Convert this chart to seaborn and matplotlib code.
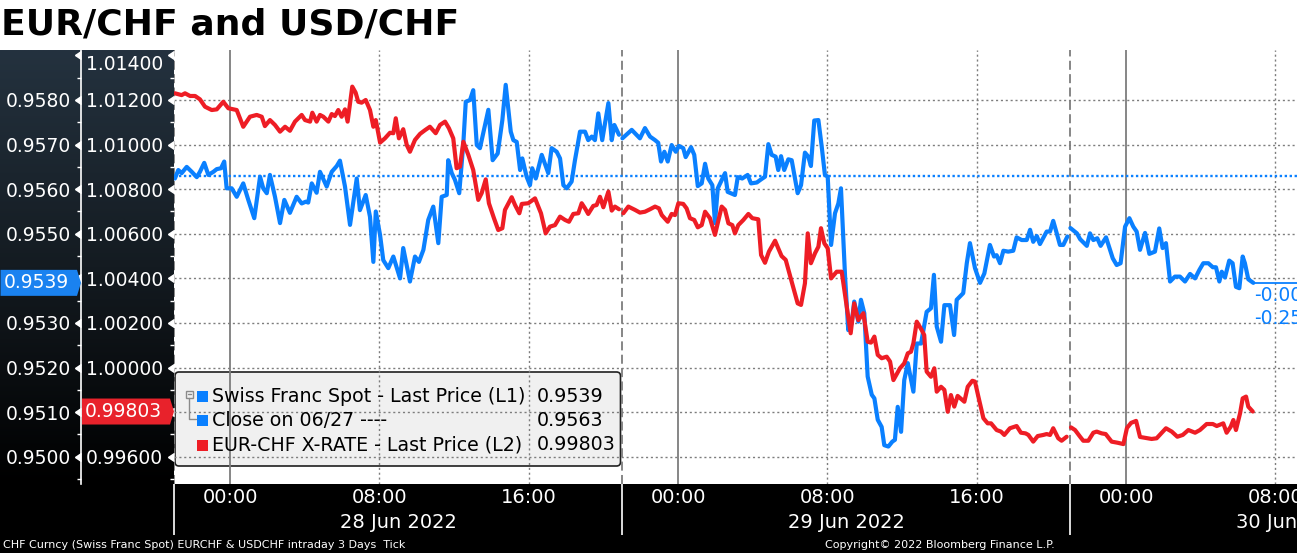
import numpy as np
import pandas as pd
import matplotlib
matplotlib.use("Agg")
import matplotlib.pyplot as plt
from matplotlib.colors import LinearSegmentedColormap
from matplotlib.patches import Polygon, Rectangle, FancyBboxPatch
from matplotlib.transforms import IdentityTransform, blended_transform_factory
from matplotlib.lines import Line2D
import seaborn as sns

# ---------------- data ----------------
# time = hours after 21:00 on 27 Jun 2022 (start of the Bloomberg trading session)
usd_session1 = [(0.05,0.95624),(0.23,0.95643),(0.41,0.95636),(0.68,0.95650),(0.95,0.95639),(1.22,0.95627),(1.39,0.95639),(1.62,0.95659),(1.84,0.95632),(2.11,0.95639),(2.29,0.95645),(2.52,0.95647),(2.69,0.95662),(2.82,0.95602),(3.09,0.95602),(3.36,0.95583),(3.71,0.95613),(3.98,0.95576),(4.30,0.95535),(4.61,0.95628),(4.78,0.95602),(4.97,0.95591),(5.14,0.95632),(5.41,0.95583),(5.68,0.95524),(5.91,0.95576),(6.21,0.95547),(6.57,0.95583),(6.84,0.95568),(7.06,0.95572),(7.19,0.95570),(7.38,0.95613),(7.64,0.95592),(7.82,0.95639),(8.18,0.95606),(8.45,0.95639),(8.72,0.95652),(8.89,0.95664),(9.16,0.95606),(9.43,0.95520),(9.79,0.95624),(9.96,0.95553),(10.27,0.95587),(10.50,0.95538),(10.68,0.95437),(10.81,0.95550),(11.04,0.95497),(11.21,0.95441),(11.48,0.95423),(11.75,0.95449),(12.11,0.95400),(12.28,0.95468),(12.64,0.95393),(12.91,0.95449),(13.12,0.95437),(13.36,0.95464),(13.62,0.95531),(13.89,0.95561),(14.16,0.95479),(14.34,0.95583),(14.61,0.95587),(14.69,0.95665),(14.88,0.95636),(15.05,0.95621),(15.28,0.95591),(15.50,0.95703),(15.63,0.95796),(15.86,0.95800),(16.03,0.95822),(16.22,0.95699),(16.39,0.95692),(16.84,0.95778),(17.07,0.95665),(17.34,0.95680),(17.59,0.95755),(17.77,0.95834),(18.04,0.95729),(18.18,0.95710),(18.36,0.95706),(18.54,0.95643),(18.66,0.95669),(18.89,0.95628),(19.07,0.95609),(19.19,0.95647),(19.38,0.95624),(19.70,0.95677),(20.05,0.95636),(20.23,0.95692),(20.50,0.95684),(20.68,0.95669),(20.86,0.95609),(21.04,0.95602),(21.30,0.95617),(21.48,0.95665),(21.75,0.95729),(22.02,0.95729),(22.19,0.95710),(22.38,0.95718),(22.55,0.95710),(22.73,0.95770),(22.94,0.95710),(23.27,0.95793),(23.45,0.95710),(23.59,0.95744),(23.84,0.95722)]
usd_session2 = [(24.02,0.95714),(24.52,0.95733),(24.96,0.95714),(25.23,0.95737),(25.50,0.95718),(25.77,0.95710),(25.94,0.95704),(26.09,0.95662),(26.27,0.95684),(26.45,0.95662),(26.66,0.95699),(26.88,0.95684),(27.05,0.95697),(27.28,0.95692),(27.41,0.95672),(27.70,0.95694),(27.87,0.95677),(28.06,0.95607),(28.27,0.95613),(28.45,0.95657),(28.62,0.95624),(28.84,0.95609),(28.98,0.95524),(29.13,0.95602),(29.52,0.95636),(29.66,0.95594),(30.05,0.95587),(30.20,0.95627),(30.44,0.95624),(30.73,0.95632),(30.91,0.95613),(31.22,0.95615),(31.45,0.95622),(31.66,0.95628),(31.84,0.95701),(32.02,0.95677),(32.23,0.95673),(32.37,0.95643),(32.52,0.95674),(32.69,0.95643),(32.91,0.95667),(33.09,0.95665),(33.41,0.95591),(33.59,0.95609),(33.80,0.95682),(33.98,0.95673),(34.12,0.95652),(34.30,0.95754),(34.52,0.95755),(34.70,0.95695),(34.87,0.95632),(35.02,0.95628),(35.20,0.95475),(35.41,0.95546),(35.59,0.95568),(35.73,0.95602),(35.95,0.95404),(36.12,0.95284),(36.30,0.95299),(36.44,0.95348),(36.66,0.95303),(36.80,0.95352),(36.98,0.95322),(37.16,0.95180),(37.38,0.95139),(37.52,0.95131),(37.70,0.95083),(37.91,0.95067),(38.05,0.95026),(38.27,0.95023),(38.48,0.95034),(38.62,0.95038),(38.77,0.95112),(38.95,0.95056),(39.12,0.95172),(39.31,0.95210),(39.61,0.95146),(39.79,0.95254),(40.02,0.95254),(40.32,0.95325),(40.55,0.95333),(40.71,0.95408),(40.86,0.95292),(41.09,0.95258),(41.27,0.95340),(41.57,0.95340),(41.79,0.95273),(41.93,0.95352),(42.28,0.95367),(42.47,0.95434),(42.64,0.95479),(42.91,0.95423),(43.18,0.95390),(43.41,0.95411),(43.71,0.95475),(43.93,0.95449),(44.07,0.95452),(44.25,0.95434),(44.43,0.95462),(44.69,0.95460),(44.96,0.95462),(45.14,0.95492),(45.41,0.95486),(45.68,0.95486),(45.86,0.95509),(46.03,0.95482),(46.22,0.95495),(46.39,0.95477),(46.75,0.95505),(46.93,0.95505),(47.10,0.95529),(47.29,0.95501),(47.46,0.95475),(47.64,0.95475),(47.86,0.95494)]
usd_session3 = [(48.02,0.95513),(48.37,0.95501),(48.54,0.95488),(48.90,0.95473),(49.07,0.95501),(49.25,0.95486),(49.46,0.95490),(49.64,0.95473),(49.93,0.95492),(50.29,0.95445),(50.50,0.95430),(50.71,0.95434),(50.95,0.95516),(51.18,0.95535),(51.39,0.95516),(51.57,0.95505),(51.75,0.95464),(52.02,0.95502),(52.25,0.95455),(52.55,0.95460),(52.78,0.95512),(52.96,0.95468),(53.14,0.95479),(53.36,0.95393),(53.62,0.95404),(53.89,0.95404),(54.16,0.95393),(54.43,0.95410),(54.70,0.95400),(54.93,0.95419),(55.14,0.95434),(55.41,0.95434),(55.65,0.95425),(55.82,0.95425),(56.00,0.95393),(56.13,0.95415),(56.30,0.95402),(56.53,0.95440),(56.71,0.95434),(56.89,0.95381),(57.07,0.95378),(57.25,0.95449),(57.37,0.95434),(57.55,0.95398),(57.82,0.95390)]

eur_session1 = [(0.05,1.01230),(0.41,1.01222),(0.59,1.01230),(0.86,1.01218),(1.13,1.01218),(1.39,1.01203),(1.66,1.01170),(2.02,1.01155),(2.29,1.01158),(2.64,1.01192),(2.91,1.01163),(3.36,1.01155),(3.71,1.01080),(4.07,1.01125),(4.43,1.01133),(4.70,1.01125),(4.87,1.01083),(5.14,1.01110),(5.41,1.01088),(5.68,1.01058),(5.95,1.01080),(6.21,1.01062),(6.48,1.01103),(6.84,1.01133),(7.02,1.01110),(7.29,1.01103),(7.41,1.01143),(7.64,1.01103),(7.82,1.01133),(8.00,1.01125),(8.27,1.01103),(8.45,1.01137),(8.62,1.01128),(8.80,1.01155),(8.98,1.01125),(9.16,1.01158),(9.30,1.01103),(9.55,1.01260),(9.73,1.01233),(9.87,1.01192),(10.05,1.01188),(10.27,1.01200),(10.50,1.01155),(10.68,1.01080),(10.81,1.01110),(11.04,1.01009),(11.30,1.01028),(11.57,1.01053),(11.75,1.01051),(11.88,1.01118),(12.05,1.01028),(12.28,1.01069),(12.47,1.00998),(12.64,1.00968),(12.91,1.01021),(13.18,1.01048),(13.45,1.01065),(13.71,1.01080),(14.02,1.01051),(14.25,1.01088),(14.52,1.01103),(14.73,1.01073),(14.96,1.01028),(15.14,1.00894),(15.32,1.00901),(15.50,1.01013),(15.77,1.00953),(16.03,1.00886),(16.30,1.00752),(16.48,1.00782),(16.70,1.00844),(16.87,1.00737),(17.14,1.00670),(17.37,1.00617),(17.59,1.00625),(17.73,1.00707),(18.09,1.00764),(18.27,1.00729),(18.50,1.00692),(18.63,1.00734),(18.98,1.00737),(19.34,1.00759),(19.66,1.00692),(19.91,1.00602),(20.14,1.00632),(20.41,1.00639),(20.68,1.00677),(20.95,1.00662),(21.16,1.00654),(21.39,1.00689),(21.66,1.00692),(21.84,1.00737),(22.02,1.00714),(22.19,1.00689),(22.46,1.00725),(22.64,1.00729),(22.82,1.00766),(23.00,1.00719),(23.27,1.00789),(23.45,1.00704),(23.62,1.00722),(23.84,1.00710)]
eur_session2 = [(24.07,1.00692),(24.34,1.00722),(24.70,1.00707),(24.96,1.00695),(25.23,1.00699),(25.50,1.00710),(25.77,1.00722),(25.98,1.00714),(26.13,1.00684),(26.45,1.00654),(26.66,1.00689),(26.84,1.00684),(27.02,1.00737),(27.28,1.00734),(27.46,1.00714),(27.64,1.00670),(27.87,1.00662),(28.06,1.00629),(28.27,1.00639),(28.45,1.00699),(28.71,1.00670),(28.98,1.00595),(29.34,1.00722),(29.52,1.00707),(29.70,1.00647),(29.91,1.00639),(30.05,1.00602),(30.23,1.00639),(30.50,1.00662),(30.77,1.00689),(30.98,1.00670),(31.30,1.00665),(31.45,1.00505),(31.66,1.00470),(31.87,1.00520),(32.20,1.00569),(32.37,1.00535),(32.55,1.00500),(32.77,1.00483),(33.09,1.00385),(33.41,1.00288),(33.59,1.00281),(33.80,1.00378),(33.95,1.00602),(34.12,1.00468),(34.34,1.00513),(34.52,1.00542),(34.66,1.00625),(34.84,1.00557),(35.02,1.00535),(35.20,1.00400),(35.50,1.00430),(35.77,1.00430),(36.04,1.00273),(36.25,1.00154),(36.44,1.00288),(36.66,1.00213),(36.93,1.00244),(37.16,1.00116),(37.34,1.00112),(37.52,1.00139),(37.70,1.00057),(37.91,1.00042),(38.18,1.00049),(38.36,1.00027),(38.54,0.99944),(38.89,0.99997),(39.12,1.00019),(39.31,1.00064),(39.48,1.00071),(39.61,1.00109),(39.79,1.00206),(40.05,1.00169),(40.19,1.00146),(40.32,0.99982),(40.55,0.99959),(40.73,0.99997),(40.86,0.99892),(41.09,0.99914),(41.27,0.99900),(41.45,0.99802),(41.62,0.99877),(41.80,0.99825),(41.98,0.99873),(42.34,0.99847),(42.52,0.99914),(42.77,0.99941),(42.91,0.99937),(43.09,0.99870),(43.36,0.99773),(43.59,0.99750),(43.77,0.99750),(44.07,0.99720),(44.30,0.99713),(44.48,0.99698),(44.78,0.99728),(45.14,0.99738),(45.37,0.99708),(45.62,0.99705),(45.77,0.99698),(46.03,0.99668),(46.27,0.99693),(46.57,0.99698),(46.75,0.99702),(46.93,0.99698),(47.10,0.99728),(47.37,0.99683),(47.55,0.99672),(47.82,0.99690)]
eur_session3 = [(48.05,0.99732),(48.27,0.99720),(48.54,0.99690),(48.71,0.99672),(48.98,0.99672),(49.25,0.99708),(49.43,0.99713),(49.70,0.99705),(49.91,0.99702),(50.23,0.99668),(50.55,0.99663),(50.86,0.99657),(51.05,0.99729),(51.27,0.99752),(51.54,0.99761),(51.75,0.99689),(52.37,0.99680),(52.64,0.99683),(53.14,0.99728),(53.45,0.99713),(53.75,0.99690),(54.04,0.99698),(54.34,0.99720),(54.70,0.99708),(54.96,0.99720),(55.32,0.99747),(55.65,0.99747),(55.86,0.99738),(56.21,0.99750),(56.39,0.99708),(56.61,0.99735),(56.75,0.99765),(56.89,0.99720),(57.11,0.99795),(57.25,0.99862),(57.43,0.99870),(57.55,0.99825),(57.79,0.99803)]

usd_close_0627 = 0.9563
usd_last = 0.9539
eur_last = 0.99803
usd_net_change = "-0.0024"
usd_pct_change = "-0.25%"

legend_names = ["Swiss Franc Spot - Last Price (L1)", "Close on 06/27 ----", "EUR-CHF X-RATE - Last Price (L2)"]
legend_values = ["0.9539", "0.9563", "0.99803"]

l1_ticks = [0.950, 0.951, 0.952, 0.953, 0.954, 0.955, 0.956, 0.957, 0.958, 0.959]
l1_labels = ["0.9500", "0.9510", "0.9520", "0.9530", "", "0.9550", "0.9560", "0.9570", "0.9580", ""]
l1_grid = [0.950, 0.951, 0.952, 0.953, 0.954, 0.955, 0.956, 0.957, 0.958]
l1_minor = [0.9495, 0.9505, 0.9515, 0.9525, 0.9535, 0.9545, 0.9555, 0.9565, 0.9575, 0.9585]
l2_ticks = [0.996, 0.998, 1.000, 1.002, 1.004, 1.006, 1.008, 1.010, 1.012, 1.014]
l2_labels = ["0.99600", "", "1.00000", "1.00200", "1.00400", "1.00600", "1.00800", "1.01000", "1.01200", "1.01400"]
l2_minor = [0.995, 0.997, 0.999, 1.001, 1.003, 1.005, 1.007, 1.009, 1.011, 1.013]

time_ticks = [3, 11, 19, 27, 35, 43, 51, 59]
time_labels = ["00:00", "08:00", "16:00", "00:00", "08:00", "16:00", "00:00", "08:00"]
time_minor = [7, 15, 23, 31, 39, 47, 55]
midnights = [3, 27, 51]
intraday_lines = [11, 19, 35, 43, 59]
session_starts = [0, 24, 48]
day_centres = [12, 36, 60]
day_labels = ["28 Jun 2022", "29 Jun 2022", "30 Jun 2022"]

# ---------------- style ----------------
sns.set_theme(style="white")
plt.rcParams["font.family"] = ["DejaVu Sans"]

BLUE = "#0a80ff"
RED = "#ee1d25"
GRID = "#7d7d7d"

W, H = 1297, 553
fig = plt.figure(figsize=(W / 100, H / 100), dpi=100, facecolor="white")


def rect(x0, y_top, x1, y_bot):
    return [x0 / W, 1 - y_bot / H, (x1 - x0) / W, (y_bot - y_top) / H]


PL, PR, PT, PB = 174, 1297, 50, 484

# left label panel (gradient) and bottom band
ax_bg = fig.add_axes(rect(0, PT, PL, PB), zorder=-10)
grad = np.linspace(0, 1, 256)[:, None]
ax_bg.imshow(grad, aspect="auto", extent=[0, 1, 0, 1],
             cmap=LinearSegmentedColormap.from_list("panel", ["#24323f", "#141b21", "#000000"]))
ax_bg.axis("off")
fig.add_artist(Rectangle((0, 0), 1, 1 - PB / H, transform=fig.transFigure,
                         facecolor="black", edgecolor="none", zorder=-10))

# ---------------- main axes ----------------
ax = fig.add_axes(rect(PL, PT, PR, PB))
L1_LO, L1_HI = 0.949390, 0.959121
ax.set_xlim(0, 60.16)
ax.set_ylim(L1_LO, L1_HI)
ax2 = ax.twinx()
ax2.set_ylim(2 * L1_LO - 0.904, 2 * L1_HI - 0.904)

# grid
for v in l1_grid:
    ax.axhline(v, color=GRID, lw=1, ls=(0, (1.5, 2)), zorder=1)
for t in intraday_lines:
    ax.axvline(t, color=GRID, lw=1, ls=(0, (1.5, 2)), zorder=1)
for t in midnights:
    ax.axvline(t, color=GRID, lw=1.3, zorder=1)
for t in session_starts:
    ax.axvline(t, color=GRID, lw=1.3, ls=(0, (5, 2.4)), zorder=1)

# series
usd = pd.DataFrame(usd_session1 + usd_session2 + usd_session3, columns=["hours", "rate"])
usd["session"] = (usd["hours"] // 24).astype(int)
eur = pd.DataFrame(eur_session1 + eur_session2 + eur_session3, columns=["hours", "rate"])
eur["session"] = (eur["hours"] // 24).astype(int)

ax.axhline(usd_close_0627, color=BLUE, lw=1.7, ls=(0, (1, 1.1)), zorder=2)
sns.lineplot(data=usd, x="hours", y="rate", units="session", estimator=None, color=BLUE,
             lw=3, ax=ax, zorder=3, legend=False, solid_joinstyle="round", solid_capstyle="round")
sns.lineplot(data=eur, x="hours", y="rate", units="session", estimator=None, color=RED,
             lw=3, ax=ax2, zorder=3, legend=False, solid_joinstyle="round", solid_capstyle="round")
last_h = usd["hours"].iloc[-1]
ax.hlines(usd_last, last_h, 60.16, color=BLUE, lw=1.3, zorder=3)
ax.annotate(usd_net_change, xy=(last_h, usd_last), xytext=(1, -13), textcoords="offset pixels",
            color=BLUE, fontsize=13.5, va="center", ha="left", annotation_clip=False)
ax.annotate(usd_pct_change, xy=(last_h, usd_last), xytext=(1, -36), textcoords="offset pixels",
            color=BLUE, fontsize=13.5, va="center", ha="left", annotation_clip=False)

ax.set_xlabel("")
ax.set_ylabel("")
ax2.set_ylabel("")

# ---------------- axes styling ----------------
for s in ["top", "right", "bottom"]:
    ax.spines[s].set_visible(False)
ax.spines["left"].set_position(("outward", (PL - 81) * 0.72))
ax.spines["left"].set_color("white")
ax.spines["left"].set_linewidth(1.2)
for s in ax2.spines.values():
    s.set_visible(False)

ax.set_yticks(l1_ticks)
ax.set_yticklabels(l1_labels)
ax.set_yticks(l1_minor, minor=True)
ax2.yaxis.tick_left()
ax2.set_yticks(l2_ticks)
ax2.set_yticklabels(l2_labels)
ax2.set_yticks(l2_minor, minor=True)

for a, pad in [(ax, 2.4), (ax2, 3.0)]:
    a.tick_params(axis="y", which="major", direction="out", length=5, width=1,
                  colors="white", labelsize=13.5, pad=pad)
    a.tick_params(axis="y", which="minor", direction="out", length=3, width=1, colors="white")
    for t in a.yaxis.get_major_ticks():
        t.tick1line.set_marker(8)
        t.tick1line.set_markersize(5.5)
        t.tick1line.set_markerfacecolor("white")
        t.tick1line.set_markeredgecolor("white")
ax2.yaxis.get_major_ticks()[-1].label1.set_verticalalignment("top")

ax.set_xticks(time_ticks)
ax.set_xticklabels(time_labels)
ax.set_xticks(time_minor, minor=True)
ax.tick_params(axis="x", which="major", direction="out", length=4, width=1,
               colors="white", labelsize=14, pad=-1)
ax.tick_params(axis="x", which="minor", direction="out", length=4, width=1, colors="white")

band = blended_transform_factory(ax.transData, fig.transFigure)
for h, lab in zip(day_centres, day_labels):
    ax.text(h, 1 - 522 / H, lab, transform=band, ha="center", va="center",
            color="white", fontsize=14, clip_on=False)
ax.vlines(session_starts, 1 - PB / H, 1 - 535 / H, transform=band, colors="white",
          lw=1.2, clip_on=False)

# ---------------- value tags on the axes ----------------
ID = IdentityTransform()


def tag(axis_obj, value, x0, x1, tip, text, color):
    yd = axis_obj.transData.transform((0, value))[1]
    half = 13
    fig.add_artist(Polygon([(x0, yd - half), (x1, yd - half), (tip, yd), (x1, yd + half), (x0, yd + half)],
                           closed=True, transform=ID, facecolor=color, edgecolor="none", zorder=6))
    fig.text(x0 + 3, yd, text, transform=ID, color="white", fontsize=13.5, va="center",
             ha="left", zorder=7)


tag(ax, usd_last, 0.5, 77, 81, legend_values[0], "#1a82f0")
tag(ax2, eur_last, 82, 170, 174, legend_values[2], "#e8222b")

# ---------------- legend box ----------------
ax.add_patch(FancyBboxPatch((175, H - 466), 445.5, 94, boxstyle="round,pad=0,rounding_size=4",
                            transform=ID, facecolor="#f0f0f0", edgecolor="#202020", lw=1.2,
                            zorder=0.5, clip_on=False))
rows_y = [396, 420.5, 445]
sq_colors = [BLUE, BLUE, RED]
for y, name, val, c in zip(rows_y, legend_names, legend_values, sq_colors):
    fig.add_artist(Rectangle((196.5, H - y - 5.5), 11, 11, transform=ID, facecolor=c,
                             edgecolor="none", zorder=6))
    fig.text(212.5, H - y, name, transform=ID, color="black", fontsize=13.7, va="center", zorder=7)
    fig.text(536.5, H - y, val, transform=ID, color="black", fontsize=13.7, va="center", zorder=7)
# tree connector
fig.add_artist(Rectangle((186, H - 397.5), 6.5, 6.5, transform=ID, facecolor="none",
                         edgecolor="#8a8a8a", lw=1, zorder=6))
fig.add_artist(Line2D([187.5, 191], [H - 394.2, H - 394.2], transform=ID, color="#8a8a8a", lw=1, zorder=6))
fig.add_artist(Line2D([189.3, 189.3, 196], [H - 397.5, H - 419, H - 419], transform=ID,
                      color="#8a8a8a", lw=1, zorder=6))

# ---------------- titles / footer ----------------
fig.text(1 / W, 1 - 24 / H, "EUR/CHF and USD/CHF", fontsize=26, fontweight="bold",
         color="black", va="center", ha="left")
fig.text(3 / W, 1 - 545 / H, "CHF Curncy (Swiss Franc Spot) EURCHF & USDCHF intraday 3 Days  Tick",
         fontsize=8, color="white", va="center", ha="left")
fig.text(825 / W, 1 - 545 / H, "Copyright\u00a9 2022 Bloomberg Finance L.P.",
         fontsize=8, color="white", va="center", ha="left")

fig.savefig("out.png", dpi=100, facecolor="white")
